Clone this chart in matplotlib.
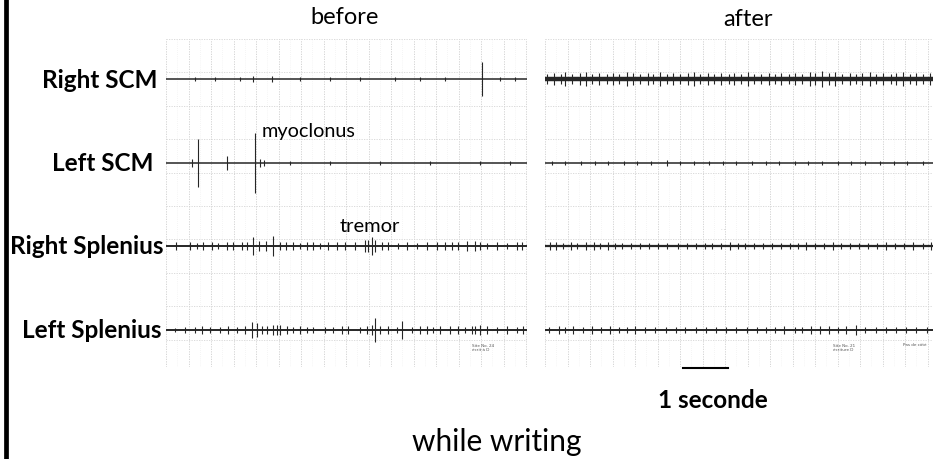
import numpy as np
import matplotlib.pyplot as plt

# channel labels (top to bottom)
channels = ['Right SCM', 'Left SCM', 'Right Splenius', 'Left Splenius']

# burst times (s) and half amplitudes (px-ish units)
# ---- before ----
b_rscm_t = [0.64, 1.09, 1.64, 1.93, 2.36, 2.98, 3.64, 4.31, 5.09, 5.64, 6.20, 7.02, 7.42, 7.76]
b_rscm_a = [2, 2, 2, 3, 3, 2, 2, 2, 2, 2, 2, 17, 2, 2]

b_lscm_t = [0.58, 0.71, 1.36, 1.98, 2.09, 2.18, 2.76, 3.64, 4.76, 5.87, 6.98, 7.64]
b_lscm_a = [4, 24, 7, 30, 4, 3, 2, 2, 2, 2, 2, 2]

b_rspl_t = [0.22, 0.53, 0.69, 0.82, 1.02, 1.16, 1.36, 1.49, 1.69, 1.80, 1.93, 2.07, 2.22,
            2.38, 2.53, 2.67, 2.82, 2.98, 3.13, 3.27, 3.42, 3.60, 3.80, 3.98, 4.20, 4.42,
            4.49, 4.58, 4.64, 4.80, 4.93, 5.16, 5.36, 5.58, 5.80, 6.02, 6.20, 6.36, 6.49,
            6.69, 6.87, 6.98, 7.13, 7.36, 7.58, 7.80, 7.91]
b_rspl_a = [4, 4, 3, 4, 4, 3, 4, 4, 4, 4, 9, 5, 5,
            10, 4, 4, 4, 3, 4, 4, 3, 4, 4, 4, 4, 6,
            6, 9, 6, 4, 4, 3, 4, 3, 4, 4, 4, 4, 4,
            5, 5, 4, 3, 4, 3, 4, 4]

b_lspl_t = [0.20, 0.42, 0.64, 0.80, 0.98, 1.20, 1.38, 1.58, 1.76, 1.91, 2.02, 2.13, 2.24,
            2.38, 2.47, 2.53, 2.69, 2.82, 2.98, 3.13, 3.27, 3.53, 3.71, 3.91, 4.04, 4.31,
            4.47, 4.58, 4.64, 4.76, 4.93, 5.13, 5.24, 5.47, 5.64, 5.80, 5.93, 6.09, 6.31,
            6.49, 6.64, 6.80, 6.87, 6.98, 7.13, 7.36, 7.58, 7.80, 7.93]
b_lspl_a = [2, 3, 3, 4, 3, 3, 4, 3, 4, 8, 7, 4, 4,
            5, 5, 5, 4, 3, 4, 3, 3, 3, 3, 4, 4, 3,
            4, 5, 12, 4, 4, 3, 9, 3, 4, 4, 3, 4, 4,
            4, 3, 4, 4, 5, 4, 3, 4, 3, 4]

# ---- after ----
a_rscm_t = [0.05, 0.20, 0.35, 0.45, 0.60, 0.78, 0.90, 1.05, 1.20, 1.38, 1.50, 1.65, 1.82,
            1.95, 2.10, 2.28, 2.40, 2.55, 2.72, 2.85, 3.00, 3.18, 3.30, 3.45, 3.62, 3.75,
            3.90, 4.08, 4.20, 4.35, 4.52, 4.65, 4.80, 4.98, 5.10, 5.25, 5.42, 5.55, 5.70,
            5.88, 6.00, 6.15, 6.32, 6.45, 6.60, 6.78, 6.90, 7.05, 7.22, 7.35, 7.50, 7.68,
            7.80, 7.95, 8.12, 8.25, 8.40, 8.55]
a_rscm_a = [5, 6, 5, 7, 5, 6, 7, 5, 6, 5, 6, 5, 7,
            6, 5, 6, 5, 7, 5, 6, 5, 6, 7, 5, 6, 5,
            6, 5, 6, 5, 7, 5, 5, 6, 5, 6, 5, 6, 5,
            7, 6, 8, 6, 7, 5, 6, 5, 6, 7, 5, 6, 5,
            6, 7, 5, 6, 5, 6]

a_lscm_t = [0.15, 0.45, 0.80, 1.10, 1.40, 1.75, 2.05, 2.35, 2.70, 3.00, 3.30, 3.65, 3.95,
            4.25, 4.60, 4.90, 5.20, 5.55, 5.85, 6.15, 6.50, 6.80, 7.10, 7.45, 7.75, 8.05, 8.40]
a_lscm_a = [2, 2, 2, 2, 2, 2, 2, 2, 3, 2, 2, 2, 2,
            2, 2, 2, 2, 2, 2, 2, 2, 2, 2, 2, 2, 2, 2]

a_rspl_t = [0.10, 0.25, 0.40, 0.58, 0.72, 0.90, 1.08, 1.22, 1.40, 1.55, 1.72, 1.90, 2.10,
            2.30, 2.52, 2.70, 2.95, 3.15, 3.35, 3.55, 3.72, 3.90, 4.10, 4.28, 4.45, 4.65,
            4.85, 5.05, 5.25, 5.45, 5.62, 5.80, 6.00, 6.20, 6.40, 6.58, 6.78, 6.98, 7.18,
            7.38, 7.58, 7.78, 7.98, 8.18, 8.40, 8.58]
a_rspl_a = [4, 4, 3, 4, 3, 4, 4, 3, 4, 3, 3, 3, 3,
            3, 3, 3, 3, 3, 3, 3, 3, 3, 4, 3, 3, 3,
            3, 3, 3, 3, 3, 4, 3, 3, 4, 3, 3, 3, 3,
            3, 4, 3, 3, 4, 3, 4]

a_lspl_t = [0.08, 0.30, 0.45, 0.62, 0.85, 1.05, 1.25, 1.45, 1.65, 1.82, 2.00, 2.22, 2.45,
            2.68, 2.90, 3.12, 3.35, 3.58, 3.80, 4.02, 4.25, 4.48, 4.70, 4.92, 5.10, 5.32,
            5.55, 5.72, 5.90, 6.10, 6.30, 6.50, 6.68, 6.90, 7.12, 7.35, 7.58, 7.80, 8.02,
            8.25, 8.48]
a_lspl_a = [3, 4, 3, 4, 3, 4, 3, 4, 3, 3, 4, 3, 3,
            3, 3, 3, 3, 3, 3, 3, 3, 3, 3, 3, 3, 4,
            3, 3, 4, 4, 4, 3, 4, 5, 3, 3, 3, 3, 3,
            3, 3]

before_t = [b_rscm_t, b_lscm_t, b_rspl_t, b_lspl_t]
before_a = [b_rscm_a, b_lscm_a, b_rspl_a, b_lspl_a]
after_t = [a_rscm_t, a_lscm_t, a_rspl_t, a_lspl_t]
after_a = [a_rscm_a, a_lscm_a, a_rspl_a, a_lspl_a]

offsets = [0, 84, 167, 251]
ink = '#262626'

fig = plt.figure(figsize=(9.33, 4.6), dpi=100)
plt.rcParams['font.family'] = ['Lato', 'DejaVu Sans']

ax_b = fig.add_axes([166 / 933, 1 - 368 / 460, 361 / 933, 328 / 460])
ax_a = fig.add_axes([545 / 933, 1 - 368 / 460, 388 / 933, 328 / 460])


def draw_panel(ax, xmax, times, amps, base_lw):
    # chart paper grid
    for x in np.arange(0, xmax, 0.5):
        ax.axvline(x, color='#cfcfcf', lw=0.6, ls=(0, (1.5, 1.5)), zorder=0)
    for x in np.arange(0.25, xmax, 0.5):
        ax.axvline(x, color='#ececec', lw=0.5, ls=(0, (1, 2)), zorder=0)
    for y in np.arange(-40, 290, 33.4):
        ax.axhline(y, color='#d5d5d5', lw=0.6, ls=(0, (1.5, 1.5)), zorder=0)
    for off, t, a, lw in zip(offsets, times, amps, base_lw):
        ax.plot([0, xmax], [off, off], color=ink, lw=lw, zorder=2)
        t = np.array(t)
        a = np.array(a)
        ax.vlines(t, off - a, off + a, color=ink, lw=0.8, zorder=3)
    ax.set_xlim(0, xmax)
    ax.set_ylim(288, -40)
    ax.axis('off')


draw_panel(ax_b, 8.02, before_t, before_a, [1.1, 1.1, 1.4, 1.4])
draw_panel(ax_a, 8.62, after_t, after_a, [3.2, 1.1, 1.6, 1.4])

# scale bar: 1 second
ax_a.plot([3.07, 4.07], [289, 289], color='black', lw=1.5, clip_on=False)

# small printed notes on the chart paper
ax_b.text(6.8, 268, 'Site No. 24\nécrit à D', fontsize=3, color='#555555',
          family='DejaVu Sans', linespacing=1.3, va='center')
ax_a.text(6.4, 268, 'Site No. 21\nécriture D', fontsize=3, color='#555555',
          family='DejaVu Sans', linespacing=1.3, va='center')
ax_a.text(7.95, 265, 'Pas de côté', fontsize=3, color='#555555',
          family='DejaVu Sans', va='center', clip_on=True)
ax_a.text(3.9, 150, '- -', fontsize=3, color='#999999', family='DejaVu Sans')

# channel labels
label_x = [157, 153, 163, 161]
for name, off, lx in zip(channels, offsets, label_x):
    fig.text(lx / 933, 1 - (80 + off) / 460, name, ha='right', va='center',
             fontsize=17.5, fontweight='bold')

fig.text(345 / 933, 1 - 18 / 460, 'before', ha='center', va='center', fontsize=17)
fig.text(748 / 933, 1 - 20 / 460, 'after', ha='center', va='center', fontsize=17)
fig.text(262 / 933, 1 - 132 / 460, 'myoclonus', ha='left', va='center', fontsize=14.3)
fig.text(340 / 933, 1 - 227 / 460, 'tremor', ha='left', va='center', fontsize=14.5)
fig.text(713 / 933, 1 - 401 / 460, '1 seconde', ha='center', va='center',
         fontsize=17.5, fontweight='bold')
fig.text(497 / 933, 1 - 442 / 460, 'while writing', ha='center', va='center', fontsize=21.5)

# thick black bar on the left edge
fig.add_artist(plt.Line2D([5.8 / 933, 5.8 / 933], [0, 1], color='black', lw=3.4,
                          transform=fig.transFigure))

fig.savefig('out.png', dpi=100)
